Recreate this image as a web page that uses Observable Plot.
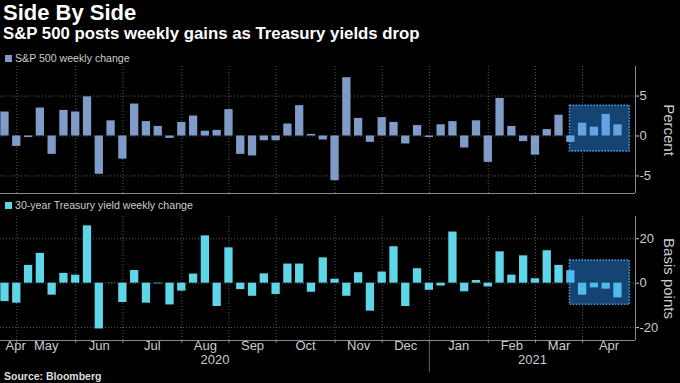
<!DOCTYPE html>
<html><head><meta charset="utf-8">
<script src="https://cdn.jsdelivr.net/npm/d3@7"></script>
<script src="https://cdn.jsdelivr.net/npm/@observablehq/plot@0.6"></script>
<style>
html,body{margin:0;padding:0;background:#000;}
#chart{position:relative;width:680px;height:383px;background:#000;overflow:hidden;font-family:"Liberation Sans",Arial,sans-serif;color:#ccc;}
.abs{position:absolute;white-space:nowrap;}
#title{left:3px;top:0px;font-size:22px;font-weight:bold;color:#fff;line-height:26px;}
#subtitle{left:3px;top:24px;font-size:16.8px;font-weight:bold;color:#fff;line-height:20px;}
.legend{left:5px;font-size:10.6px;color:#ccc;line-height:14px;display:flex;align-items:center;}
.sw{width:7px;height:7px;margin-right:3px;display:inline-block;}
#source{left:4px;top:370px;font-size:10.5px;font-weight:bold;color:#ddd;line-height:13px;}
svg{position:absolute;left:0;}
</style></head><body>
<div id="chart">
  <div id="title" class="abs">Side By Side</div>
  <div id="subtitle" class="abs">S&amp;P 500 posts weekly gains as Treasury yields drop</div>
  <div class="abs legend" style="top:51px"><span class="sw" style="background:#7f9cc8"></span>S&amp;P 500 weekly change</div>
  <div class="abs legend" style="top:198px"><span class="sw" style="background:#5ed6e8"></span>30-year Treasury yield weekly change</div>
  <div id="source" class="abs">Source: Bloomberg</div>
</div>
<script>
// Week-ending dates (Fridays)
const weekEnding = [
 "2020-04-17","2020-04-24","2020-05-01","2020-05-08","2020-05-15","2020-05-22","2020-05-29",
 "2020-06-05","2020-06-12","2020-06-19","2020-06-26","2020-07-03","2020-07-10","2020-07-17",
 "2020-07-24","2020-07-31","2020-08-07","2020-08-14","2020-08-21","2020-08-28","2020-09-04",
 "2020-09-11","2020-09-18","2020-09-25","2020-10-02","2020-10-09","2020-10-16","2020-10-23",
 "2020-10-30","2020-11-06","2020-11-13","2020-11-20","2020-11-27","2020-12-04","2020-12-11",
 "2020-12-18","2020-12-25","2021-01-01","2021-01-08","2021-01-15","2021-01-22","2021-01-29",
 "2021-02-05","2021-02-12","2021-02-19","2021-02-26","2021-03-05","2021-03-12","2021-03-19",
 "2021-03-26","2021-04-02","2021-04-09","2021-04-16"];
// S&P 500 weekly change, percent
const spxChange = [3.0,-1.3,-0.2,3.5,-2.3,3.2,3.0,4.9,-4.8,1.9,
 -2.9,4.0,1.8,1.2,-0.3,1.7,2.5,0.6,0.7,3.3,
 -2.3,-2.5,-0.6,-0.6,1.5,3.8,0.2,-0.5,-5.6,7.3,
 2.2,-0.8,2.3,1.7,-1.0,1.3,-0.2,1.4,1.8,-1.5,
 1.9,-3.3,4.7,1.2,-0.7,-2.4,0.8,2.6,-0.8,1.6,
 1.1,2.7,1.4];
// 30-year Treasury yield weekly change, basis points
const ustChange = [-8.3,-9.0,8.0,13.4,-5.4,4.4,3.6,25.8,-20.6,0.1,
 -8.7,5.7,-9.0,-0.3,-9.8,-3.6,4.1,21.3,-10.5,15.9,
 -2.9,-5.9,4.2,-5.1,8.6,8.6,-4.1,11.4,1.8,-5.9,
 4.7,-12.6,5.0,16.4,-10.5,6.5,-3.2,-1.3,23.0,-3.9,
 1.2,-1.7,14.1,3.6,12.3,2.0,14.6,8.0,5.6,-5.4,
 -2.1,-2.7,-6.6];
const highlightFrom = "2021-03-19";
// Month ticks (week bar preceding each month start) and labels
const monthTicks = ["2020-04-24","2020-05-29","2020-06-26","2020-07-31","2020-08-28","2020-09-25",
 "2020-10-30","2020-11-27","2020-12-25","2021-01-29","2021-02-26","2021-03-26"];
const monthLabels = ["Apr","May","Jun","Jul","Aug","Sep","Oct","Nov","Dec","Jan","Feb","Mar","Apr"];
const yearBreak = "2020-12-25";
const yearLabels = ["2020","2021"];
const spxTicks = [-5,0,5];
const ustTicks = [-20,0,20];
const spxBox = {x1:"2021-03-18T12:00", x2:"2021-04-23", y1:-1.95, y2:3.8};
const ustBox = {x1:"2021-03-18T12:00", x2:"2021-04-23", y1:-9.7, y2:10.2};

const P = d3.isoParse;
const data = weekEnding.map((w,i)=>({date:P(w), spx:spxChange[i], ust:ustChange[i], hi: P(w) >= P(highlightFrom)}));
const xDomain = [new Date(Date.UTC(2020,3,14,8)), new Date(Date.UTC(2021,3,26,10))];
const ticks = monthTicks.map(P);
const bounds = [xDomain[0], ...ticks, xDomain[1]];
const monthData = monthLabels.map((m,i)=>({label:m, date:new Date((+bounds[i] + +bounds[i+1])/2), first:i===0}));
const yb = P(yearBreak);
const yearData = [
  {label:yearLabels[0], date:new Date((+xDomain[0] + +yb)/2)},
  {label:yearLabels[1], date:new Date((+yb + +xDomain[1])/2)}];
const lo = d => d3.utcHour.offset(d.date, -84);
const hi = d => d3.utcHour.offset(d.date, 84);
const FONT = '"Liberation Sans", Arial, sans-serif';
const GRID = "#5c5c5c", AXIS = "#8a8a8a";

function panel({key, yDomain, yTicks, base, light, box, label, height, mt, mb, bottom}) {
  const b = {x1:P(box.x1), x2:P(box.x2), y1:box.y1, y2:box.y2};
  const marks = [
    Plot.ruleY(yTicks, {stroke:GRID, strokeDasharray:"1,2"}),
    Plot.ruleX(ticks, {stroke:GRID, strokeDasharray:"1,2"}),
    Plot.rect([b], {x1:"x1", x2:"x2", y1:"y1", y2:"y2", fill:"#164472", stroke:"#4f9de3", strokeWidth:1.5, strokeDasharray:"1.5,1.5"}),
    Plot.rect(data, {filter:d=>!d.hi, x1:lo, x2:hi, y1:0, y2:key, fill:base, insetLeft:1.75, insetRight:1.75}),
    Plot.rect(data, {filter:d=>d.hi, x1:lo, x2:hi, y1:0, y2:key, fill:light, insetLeft:1.75, insetRight:1.75}),
    Plot.ruleY([yDomain[0]], {stroke:AXIS}),
    Plot.ruleX([xDomain[1]], {stroke:AXIS}),
    Plot.axisY({anchor:"right", ticks:yTicks, tickSize:3, tickPadding:1, tickFormat:d=>String(d).replace("−","-"), fontSize:13, color:"#ccc"}),
    Plot.text([label], {frameAnchor:"right", textAnchor:"middle", dx:33, rotate:90, fontSize:15, fill:"#ccc"})
  ];
  if (bottom) {
    marks.push(
      Plot.axisX({ticks:ticks, tickSize:3, tickFormat:()=>"", color:AXIS}),
      Plot.axisX({ticks:[yb], tickSize:32, tickFormat:()=>"", color:"#666"}),
      Plot.text(monthData, {filter:d=>!d.first, x:"date", text:"label", frameAnchor:"bottom", dy:9, fontSize:13, fill:"#ccc"}),
      Plot.text(monthData, {filter:d=>d.first, x:xDomain[0], text:"label", frameAnchor:"bottom", textAnchor:"start", dx:5, dy:9, fontSize:13, fill:"#ccc"}),
      Plot.text(yearData, {x:"date", text:"label", frameAnchor:"bottom", dy:23, fontSize:13, fill:"#ccc"})
    );
  }
  return Plot.plot({
    width:680, height, marginLeft:0, marginRight:45, marginTop:mt, marginBottom:mb,
    style:{background:"transparent", color:"#ccc", fontFamily:FONT, fontSize:"13px", overflow:"visible"},
    x:{type:"utc", domain:xDomain, axis:null},
    y:{domain:yDomain, axis:null},
    marks
  });
}

const chart = document.getElementById("chart");
const top1 = panel({key:"spx", yDomain:[-7.2,8.7], yTicks:spxTicks, base:"#7f9cc8", light:"#66a3e4", box:spxBox, label:"Percent", height:136, mt:6, mb:3, bottom:false});
top1.style.top = "60px";
chart.appendChild(top1);
const bot = panel({key:"ust", yDomain:[-25.8,30], yTicks:ustTicks, base:"#5ed6e8", light:"#4fbcf0", box:ustBox, label:"Basis points", height:173, mt:6, mb:43, bottom:true});
bot.style.top = "210px";
chart.appendChild(bot);
</script>
</body></html>
